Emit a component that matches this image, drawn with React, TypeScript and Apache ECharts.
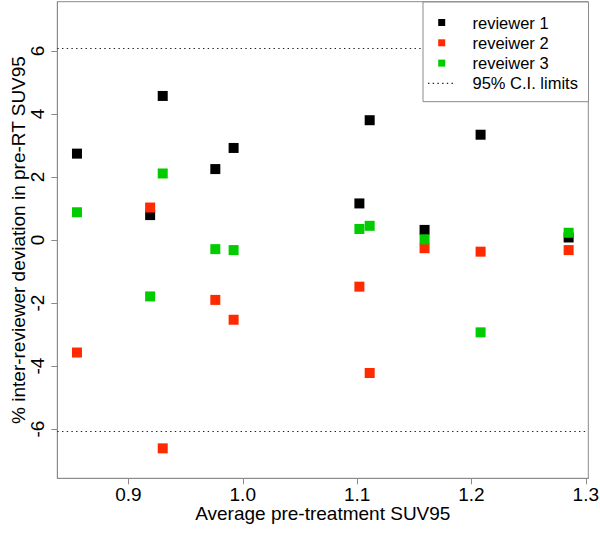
import { useEffect, useRef } from "react";
import * as echarts from "echarts";

const suv = [0.855, 0.919, 0.93, 0.976, 0.992, 1.102, 1.111, 1.159, 1.208, 1.285];
const reviewer1 = [2.74, 0.79, 4.57, 2.25, 2.92, 1.16, 3.8, 0.32, 3.34, 0.08];
const reviewer2 = [-3.57, 1.03, -6.61, -1.9, -2.53, -1.48, -4.22, -0.26, -0.37, -0.32];
const reviewer3 = [0.88, -1.79, 2.11, -0.29, -0.32, 0.35, 0.45, 0.02, -2.93, 0.23];
const ciLimit = 6.08;
const seriesNames = ["reviewer 1", "reveiwer 2", "reveiwer 3"];
const ciName = "95% C.I. limits";
const xTicks = [0.9, 1.0, 1.1, 1.2, 1.3];
const yTicks = [-6, -4, -2, 0, 2, 4, 6];
const yLim = 7;
const xTitle = "Average pre-treatment SUV95";
const yTitle = "% inter-reviewer deviation in pre-RT SUV95";

const colors = ["#000000", "#ff2a00", "#00cc00"];
const FONT = "'Liberation Sans', Arial, Helvetica, sans-serif";
const GRAY = "#8a8a8a";
const AXIS_FONT = 19;

export default function App() {
  const ref = useRef<HTMLDivElement>(null);
  useEffect(() => {
    if (!ref.current) return;
    const chart = echarts.init(ref.current, undefined, { renderer: "svg" });
    const xMinD = Math.min(...suv);
    const xMaxD = Math.max(...suv);
    const xPad = (xMaxD - xMinD) * 0.04;
    const yPad = yLim * 2 * 0.04;
    const reviewers = [reviewer1, reviewer2, reviewer3];

    const scatter = reviewers.map((vals, i) => ({
      name: seriesNames[i],
      type: "scatter",
      symbol: "rect",
      symbolSize: 10,
      itemStyle: { color: colors[i], opacity: 1 },
      data: suv.map((x, j) => [x, vals[j]]),
      z: 3 + i,
    }));

    const legendLeft = 423;
    const legendTop = 2;
    const rowY0 = 22.5;
    const rowGap = 20.3;
    const markerX = 441.7;
    const textX = 472.5;
    const legendChildren: any[] = [
      {
        type: "rect",
        shape: { x: legendLeft, y: legendTop, width: 165.5, height: 99.7 },
        style: { fill: "#fff", stroke: GRAY, lineWidth: 1 },
      },
    ];
    seriesNames.forEach((n, i) => {
      const cy = rowY0 + i * rowGap;
      legendChildren.push({
        type: "rect",
        shape: { x: markerX - 3.5, y: cy - 3.5, width: 7, height: 7 },
        style: { fill: colors[i] },
      });
      legendChildren.push({
        type: "text",
        x: textX,
        y: cy,
        style: { text: n, font: `16.5px ${FONT}`, fill: "#000", verticalAlign: "middle", align: "left" },
      });
    });
    const cy3 = rowY0 + 3 * rowGap;
    legendChildren.push({
      type: "line",
      shape: { x1: 428, y1: cy3, x2: 455, y2: cy3 },
      style: { stroke: "#222", lineWidth: 1.2, lineDash: [1.4, 3.3] },
    });
    legendChildren.push({
      type: "text",
      x: textX,
      y: cy3,
      style: { text: ciName, font: `16.5px ${FONT}`, fill: "#000", verticalAlign: "middle", align: "left" },
    });

    chart.setOption({
      animation: false,
      backgroundColor: "#fff",
      textStyle: { fontFamily: FONT },
      grid: {
        left: 57.3,
        right: 11.7,
        top: 1.7,
        bottom: 54.7,
        outerBoundsMode: "none",
        containLabel: false,
        show: true,
        borderColor: GRAY,
        borderWidth: 1,
        backgroundColor: "transparent",
      },
      xAxis: {
        type: "value",
        min: xMinD - xPad,
        max: xMaxD + xPad,
        name: xTitle,
        nameLocation: "middle",
        nameGap: 26,
        nameMoveOverlap: false,
        nameTextStyle: { fontSize: AXIS_FONT, color: "#000", fontFamily: FONT },
        axisLine: { show: true, onZero: false, lineStyle: { color: GRAY } },
        axisTick: { show: true, length: 6, lineStyle: { color: GRAY }, customValues: xTicks },
        axisLabel: {
          fontSize: AXIS_FONT,
          color: "#000",
          margin: 7,
          customValues: xTicks,
          formatter: (v: number) => v.toFixed(1),
        },
        splitLine: { show: false },
      },
      yAxis: {
        type: "value",
        min: -yLim - yPad,
        max: yLim + yPad,
        name: yTitle,
        nameLocation: "middle",
        nameGap: 29,
        nameRotate: 90,
        nameMoveOverlap: false,
        nameTextStyle: { fontSize: AXIS_FONT, color: "#000", fontFamily: FONT },
        axisLine: { show: true, onZero: false, lineStyle: { color: GRAY } },
        axisTick: { show: true, length: 6, lineStyle: { color: GRAY }, customValues: yTicks },
        axisLabel: {
          fontSize: AXIS_FONT,
          color: "#000",
          margin: 10,
          rotate: 90,
          customValues: yTicks,
          formatter: (v: number) => String(v),
        },
        splitLine: { show: false },
      },
      series: [
        {
          name: ciName,
          type: "line",
          data: [],
          markLine: {
            silent: true,
            symbol: "none",
            label: { show: false },
            lineStyle: { color: "#222", width: 1.2, type: [1.4, 3.3] },
            data: [{ yAxis: ciLimit }, { yAxis: -ciLimit }],
          },
        },
        ...scatter,
      ],
      graphic: { elements: legendChildren.map((c) => ({ ...c, z: 100 })) },
    });
    return () => chart.dispose();
  }, []);
  return <div ref={ref} style={{ position: "fixed", left: 0, top: 0, width: 600, height: 533 }} />;
}
